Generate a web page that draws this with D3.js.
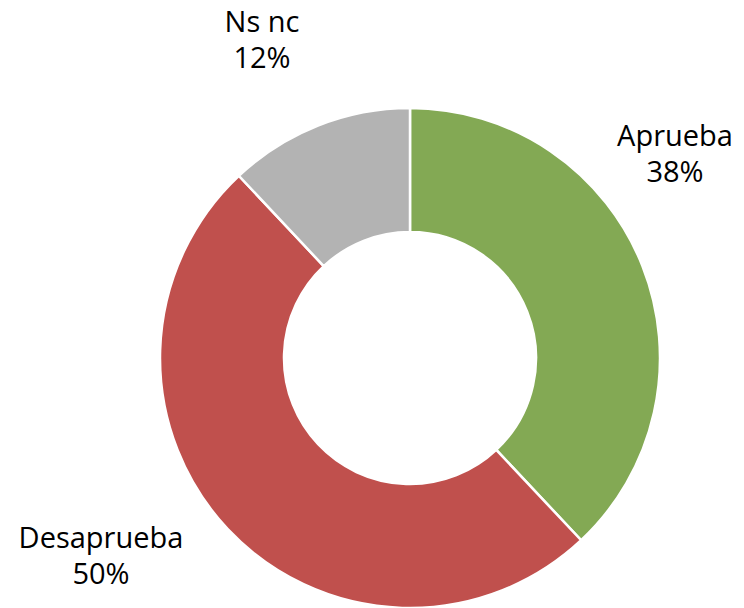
<!DOCTYPE html>
<html>
<head>
<meta charset="utf-8">
<script src="https://cdn.jsdelivr.net/npm/d3@7"></script>
<style>
  body { margin: 0; background: #fff; }
  svg text { font-family: "Open Sans", sans-serif; font-size: 29px; fill: #000; }
</style>
</head>
<body>
<svg id="place" width="744" height="608"></svg>
<script>
var categories = ["Aprueba", "Desaprueba", "Ns nc"];
var values = [38, 50, 12];
var colors = ["#83A954", "#C0504D", "#B3B3B3"];
// label anchor points (centre of the two-line label)
var labelX = [675, 101, 262];
var labelY = [146, 548, 32];

var svg = d3.select("#place");
var cx = 410, cy = 358;

var pie = d3.pie().sort(null).value(function(d) { return d; });
var arc = d3.arc().innerRadius(126).outerRadius(250);

var g = svg.append("g").attr("transform", "translate(" + cx + "," + cy + ")");

g.selectAll("path")
  .data(pie(values))
  .enter().append("path")
  .attr("d", arc)
  .attr("fill", function(d, i) { return colors[i]; })
  .attr("stroke", "#fff")
  .attr("stroke-width", 2.5);

var labels = svg.selectAll("text.lbl")
  .data(categories)
  .enter().append("text")
  .attr("class", "lbl")
  .attr("text-anchor", "middle")
  .attr("transform", function(d, i) { return "translate(" + labelX[i] + "," + labelY[i] + ")"; });

labels.append("tspan")
  .attr("x", 0).attr("y", 0)
  .text(function(d) { return d; });
labels.append("tspan")
  .attr("x", 0).attr("y", 36)
  .text(function(d, i) { return values[i] + "%"; });
</script>
</body>
</html>
